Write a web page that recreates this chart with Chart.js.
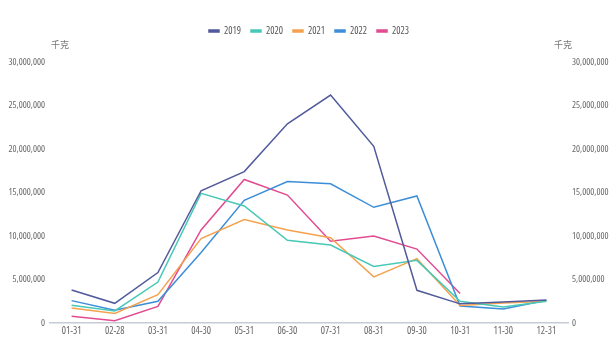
<!DOCTYPE html>
<html>
<head>
<meta charset="utf-8">
<script src="https://cdn.jsdelivr.net/npm/chart.js@4/dist/chart.umd.min.js"></script>
<style>
  html, body { margin: 0; padding: 0; background: #ffffff; }
  #wrap { width: 611px; height: 353px; position: relative; }
</style>
</head>
<body>
<div id="wrap"><canvas id="c"></canvas></div>
<script>
// Month-end dates
const categories = ['01-31','02-28','03-31','04-30','05-31','06-30','07-31','08-31','09-30','10-31','11-30','12-31'];

// Monthly volumes, kg
const y2019 = [3800000, 2260000, 5800000, 15200000, 17400000, 22900000, 26200000, 20300000, 3760000, 2200000, 2400000, 2650000];
const y2020 = [2030000, 1380000, 4700000, 14900000, 13450000, 9500000, 8970000, 6500000, 7200000, 2500000, 1840000, 2500000];
const y2021 = [1720000, 1100000, 3250000, 9700000, 11900000, 10700000, 9800000, 5300000, 7400000, 2000000, 2300000, 2500000];
const y2022 = [2570000, 1460000, 2500000, 8100000, 14100000, 16250000, 16000000, 13300000, 14600000, 1950000, 1600000, 2600000];
const y2023 = [770000, 270000, 1900000, 10700000, 16500000, 14700000, 9400000, 10000000, 8500000, 3400000, null, null];

const seriesNames = ['2019', '2020', '2021', '2022', '2023'];
const unitLabel = '千克';

const palette = ['#525b9c', '#48c8b6', '#f4a24e', '#3d8ed8', '#e24b91'];
const FAMILY = '"Open Sans", "Noto Sans CJK SC", sans-serif';
// condensed width face of Open Sans
const fontOf = size => ({ family: FAMILY, size: size, weight: 'condensed' });

const seriesData = [y2019, y2020, y2021, y2022, y2023];

const datasets = seriesNames.map((name, i) => ({
  label: name,
  data: seriesData[i],
  borderColor: palette[i],
  backgroundColor: palette[i],
  borderWidth: 1.5,
  pointRadius: 0,
  pointHoverRadius: 0,
  tension: 0,
  fill: false,
  spanGaps: false,
  yAxisID: 'y'
}));

// Extra space below the legend
const legendGap = {
  id: 'legendGap',
  beforeInit(chart) {
    const origFit = chart.legend.fit;
    chart.legend.fit = function () {
      origFit.bind(chart.legend)();
      this.height += 16;
    };
  }
};

// Unit captions above both value axes
const unitPlugin = {
  id: 'unitCaption',
  afterDraw(chart) {
    const { ctx, chartArea } = chart;
    ctx.save();
    ctx.font = 'condensed 9px ' + FAMILY;
    ctx.fillStyle = '#777777';
    ctx.textBaseline = 'middle';
    ctx.textAlign = 'center';
    ctx.fillText(unitLabel, chartArea.left + 10, chartArea.top - 17);
    ctx.fillText(unitLabel, chartArea.right - 5, chartArea.top - 17);
    ctx.restore();
  }
};

const tickCb = v => Number(v).toLocaleString('en-US');
const fixWidth = w => scale => { scale.width = w; };

new Chart(document.getElementById('c'), {
  type: 'line',
  data: { labels: categories, datasets },
  plugins: [legendGap, unitPlugin],
  options: {
    responsive: true,
    maintainAspectRatio: false,
    animation: false,
    layout: { padding: { left: 7, right: 0, top: 16, bottom: 14 } },
    plugins: {
      tooltip: { enabled: false },
      legend: {
        position: 'top',
        align: 'center',
        labels: {
          boxWidth: 10,
          boxHeight: 2,
          padding: 10,
          color: '#555555',
          font: fontOf(10)
        }
      }
    },
    scales: {
      x: {
        offset: true,
        grid: { display: false, drawTicks: false },
        border: { display: true, color: '#c5ccd3', width: 1.5 },
        ticks: { color: '#666666', font: fontOf(10), padding: 2, maxRotation: 0, autoSkip: false }
      },
      y: {
        position: 'left',
        min: 0, max: 30000000,
        afterFit: fixWidth(43),
        grid: { display: false, drawTicks: false },
        border: { display: false },
        ticks: { stepSize: 5000000, color: '#666666', font: fontOf(9.5), padding: 5, callback: tickCb }
      },
      y2: {
        position: 'right',
        min: 0, max: 30000000,
        afterFit: fixWidth(43),
        grid: { display: false, drawTicks: false },
        border: { display: false },
        ticks: { stepSize: 5000000, color: '#666666', font: fontOf(9.5), padding: 4, callback: tickCb }
      }
    }
  }
});
</script>
</body>
</html>
